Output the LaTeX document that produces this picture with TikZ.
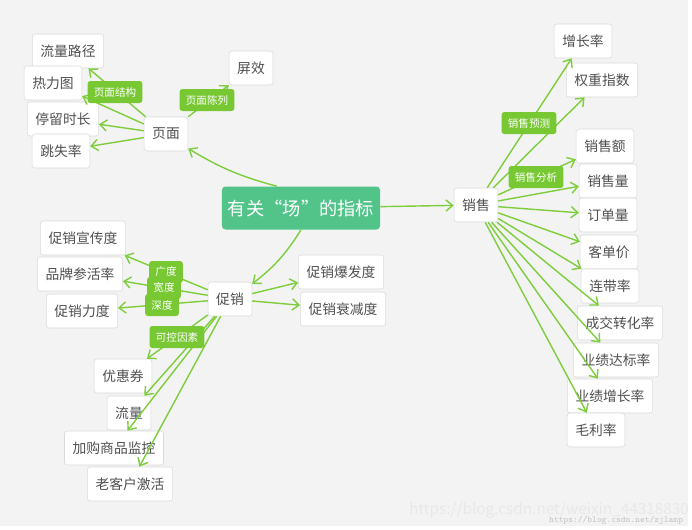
\documentclass[tikz,border=0pt]{standalone}
\usepackage{fontspec}
\setmainfont{Noto Sans CJK SC}
\usetikzlibrary{arrows.meta}
\definecolor{bggray}{RGB}{243,243,243}
\definecolor{rootgreen}{RGB}{82,196,138}
\definecolor{taggreen}{RGB}{120,200,52}
\definecolor{linegreen}{RGB}{125,205,60}
\definecolor{boxline}{RGB}{218,218,218}
\definecolor{inkgray}{RGB}{80,80,80}
\definecolor{markgray}{RGB}{232,232,232}

\begin{document}
\begin{tikzpicture}[x=0.025cm,y=-0.025cm,
    topic/.style={rectangle,rounded corners=2pt,draw=boxline,fill=white,text=inkgray,
        font=\fontsize{9.8}{11}\selectfont,minimum height=0.85cm,inner xsep=5.8pt},
    roottopic/.style={rectangle,rounded corners=2.5pt,fill=rootgreen,text=white,
        font=\fontsize{13}{15}\selectfont,minimum width=3.95cm,minimum height=1.075cm},
    tag/.style={rectangle,rounded corners=2pt,fill=taggreen,text=white,
        font=\fontsize{7.5}{9}\selectfont,inner xsep=4.5pt,minimum height=0.55cm},
    link/.style={draw=linegreen,line width=1pt,-{Straight Barb[length=1.7mm,width=2.8mm]}}]
    \useasboundingbox (0,0) rectangle (692,529);
    \fill[bggray] (0,0) rectangle (688,526);

    % centre
    \node[roottopic] (root) at (301,208) {有关“场”的指标};

    % page branch
    \node[topic] (page)   at (166,134) {页面};
    \node[topic] (path)   at (68,51)   {流量路径};
    \node[topic] (heat)   at (53,83)   {热力图};
    \node[topic] (stay)   at (63,119)  {停留时长};
    \node[topic] (bounce) at (61,151)  {跳失率};
    \node[topic] (screen) at (251,68)  {屏效};

    % sales branch
    \node[topic] (sales)      at (476,205) {销售};
    \node[topic] (growth)     at (583,41)  {增长率};
    \node[topic] (weight)     at (602,80)  {权重指数};
    \node[topic] (amount)     at (605,146) {销售额};
    \node[topic] (volume)     at (608,181) {销售量};
    \node[topic] (orders)     at (608,215) {订单量};
    \node[topic] (perprice)   at (609,252) {客单价};
    \node[topic] (joint)      at (610,286) {连带率};
    \node[topic] (convert)    at (620,323) {成交转化率};
    \node[topic] (target)     at (616,360) {业绩达标率};
    \node[topic] (perfgrowth) at (610,396) {业绩增长率};
    \node[topic] (margin)     at (596,430) {毛利率};

    % promotion branch
    \node[topic] (promo)     at (230,299) {促销};
    \node[topic] (publicity) at (83,238)  {促销宣传度};
    \node[topic] (brand)     at (80,274)  {品牌参活率};
    \node[topic] (strength)  at (82,311)  {促销力度};
    \node[topic] (burst)     at (341,272) {促销爆发度};
    \node[topic] (decay)     at (343,309) {促销衰减度};
    \node[topic] (coupon)    at (123,376) {优惠券};
    \node[topic] (traffic)   at (129,413) {流量};
    \node[topic] (addcart)   at (114,448) {加购商品监控};
    \node[topic] (oldcust)   at (130,484) {老客户激活};

    % connectors
    \draw[link] (root.138) to[bend left=8] (page);
    \draw[link] (root) -- (sales);
    \draw[link] (root.south) to[bend left=10] (promo);

    \draw[link] (page) -- (path);
    \draw[link] (page) -- (heat);
    \draw[link] (page) -- (stay);
    \draw[link] (page) -- (bounce);
    \draw[link] (page) -- (screen);

    \draw[link] (sales) -- (growth);
    \draw[link] (sales) -- (weight);
    \draw[link] (sales) -- (amount);
    \draw[link] (sales) -- (volume);
    \draw[link] (sales) -- (orders);
    \draw[link] (sales) -- (perprice);
    \draw[link] (sales) -- (joint);
    \draw[link] (sales) -- (convert);
    \draw[link] (sales) -- (target);
    \draw[link] (sales) -- (perfgrowth);
    \draw[link] (sales) -- (margin);

    \draw[link] (promo) -- (publicity);
    \draw[link] (promo) -- (brand);
    \draw[link] (promo) -- (strength);
    \draw[link] (promo) -- (burst);
    \draw[link] (promo) -- (decay);
    \draw[link] (promo) -- (coupon);
    \draw[link] (promo) -- (traffic);
    \draw[link] (promo) -- (addcart);
    \draw[link] (promo) -- (oldcust);

    % branch tags
    \node[tag] (pagestruct)  at (115,92)  {页面结构};
    \node[tag] (pagedisplay) at (207,100) {页面陈列};
    \node[tag] (forecast)    at (529,123) {销售预测};
    \node[tag] (analysis)    at (536,177) {销售分析};
    \node[tag] (breadth)     at (166,272) {广度};
    \node[tag] (width)       at (164,288) {宽度};
    \node[tag] (depth)       at (162,305) {深度};
    \node[tag] (control)     at (177,337) {可控因素};

    % watermarks
    \node[text=markgray,font=\fontsize{10.9}{12}\selectfont] (mark) at (549,510) {https://blog.csdn.net/weixin\_44318830};
    \node[text=markgray!85!black,font=\ttfamily\fontsize{6.4}{7}\selectfont,anchor=east] (mark2) at (688,520) {https://blog.csdn.net/zjlamp};
\end{tikzpicture}
\end{document}
